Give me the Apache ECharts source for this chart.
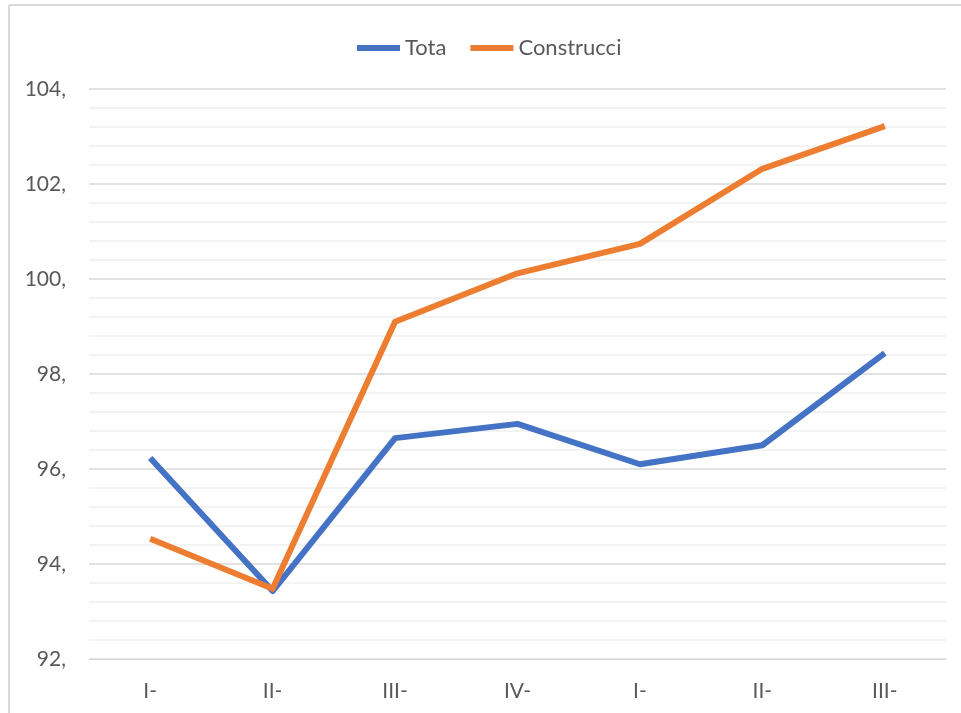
<!DOCTYPE html>
<html>
<head>
<meta charset="utf-8">
<script src="https://cdn.jsdelivr.net/npm/echarts@6/dist/echarts.min.js"></script>
<style>
  html, body { margin: 0; padding: 0; background: #fff; }
  #chart { width: 961px; height: 713px; }
</style>
</head>
<body>
<div id="chart"></div>
<script>
const categories = ['I-', 'II-', 'III-', 'IV-', 'I-', 'II-', 'III-'];
const totaValues = [96.23, 93.43, 96.65, 96.95, 96.1, 96.5, 98.44];
const construcciValues = [94.53, 93.48, 99.1, 100.12, 100.74, 102.32, 103.22];
const seriesNames = ['Tota', 'Construcci'];

window.addEventListener('load', function() {
    renderLineChart();
});

function renderLineChart() {
    const chartDom = document.getElementById('chart');
    const myChart = echarts.init(chartDom);
    const font = 'Lato, "Open Sans", sans-serif';

    const option = {
        animation: false,
        backgroundColor: '#fff',
        graphic: [
            { type: 'line', shape: { x1: 9, y1: 5, x2: 961, y2: 5 }, style: { stroke: '#d9d9d9', lineWidth: 2 } },
            { type: 'line', shape: { x1: 9, y1: 5, x2: 9, y2: 713 }, style: { stroke: '#d9d9d9', lineWidth: 2 } }
        ],
        legend: {
            top: 32,
            left: 352,
            itemWidth: 43,
            itemHeight: 6,
            itemGap: 24,
            icon: 'rect',
            data: seriesNames,
            textStyle: { color: '#595959', fontSize: 22, fontFamily: font }
        },
        grid: {
            left: 89,
            right: 15,
            top: 89,
            bottom: 54
        },
        xAxis: {
            type: 'category',
            data: categories,
            boundaryGap: true,
            axisLine: { show: true, lineStyle: { color: '#d9d9d9', width: 1 } },
            axisTick: { show: false },
            axisLabel: { color: '#595959', fontSize: 21, fontFamily: font, margin: 22 }
        },
        yAxis: {
            type: 'value',
            min: 92,
            max: 104,
            interval: 2,
            axisLine: { show: false },
            axisTick: { show: false },
            axisLabel: {
                color: '#595959',
                fontSize: 21,
                fontFamily: font,
                margin: 23,
                formatter: function(v) { return v + ','; }
            },
            splitLine: { show: true, lineStyle: { color: '#d9d9d9', width: 1.5 } },
            minorTick: { show: false, splitNumber: 5 },
            minorSplitLine: { show: true, lineStyle: { color: '#f0f0f0', width: 1.5 } }
        },
        series: [
            {
                name: seriesNames[0],
                type: 'line',
                data: totaValues,
                showSymbol: false,
                symbol: 'none',
                itemStyle: { color: '#4472C4' },
                lineStyle: { color: '#4472C4', width: 6, join: 'round' }
            },
            {
                name: seriesNames[1],
                type: 'line',
                data: construcciValues,
                showSymbol: false,
                symbol: 'none',
                itemStyle: { color: '#ED7D31' },
                lineStyle: { color: '#ED7D31', width: 6, join: 'round' }
            }
        ]
    };

    myChart.setOption(option);
}
</script>
</body>
</html>
